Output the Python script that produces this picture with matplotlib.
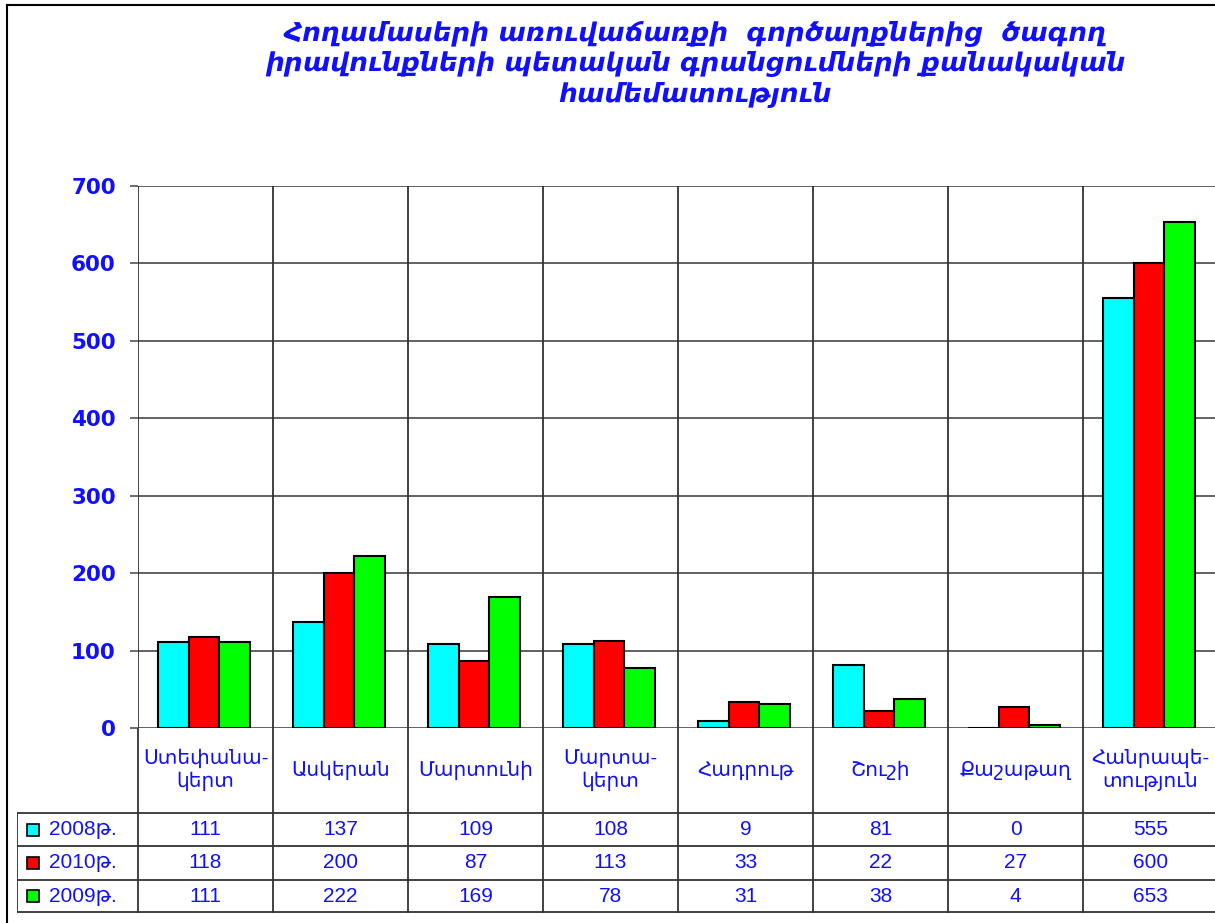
import matplotlib
matplotlib.use('Agg')
import matplotlib.pyplot as plt
from matplotlib.lines import Line2D
import numpy as np

# data
categories = ['Ստեփանա-\nկերտ', 'Ասկերան', 'Մարտունի', 'Մարտա-\nկերտ',
              'Հադրութ', 'Շուշի', 'Քաշաթաղ', 'Հանրապե-\nտություն']
series_names = ['2008թ.', '2010թ.', '2009թ.']
v2008 = [111, 137, 109, 108, 9, 81, 0, 555]
v2010 = [118, 200, 87, 113, 33, 22, 27, 600]
v2009 = [111, 222, 169, 78, 31, 38, 4, 653]
series = [v2008, v2010, v2009]
colors = ['#00ffff', '#ff0000', '#00ff00']
yticks = [0, 100, 200, 300, 400, 500, 600, 700]

title = ('Հողամասերի առուվաճառքի  գործարքներից  ծագող\n'
         'իրավունքների պետական գրանցումների քանակական\n'
         'համեմատություն')

W, H = 1215, 923
fams = ['Liberation Sans', 'DejaVu Sans']
blue = '#1010ff'
grid_c = '#555555'

def px(x0, y0, x1, y1):
    # pixel box -> figure fraction rect
    return [x0 / W, 1 - y1 / H, (x1 - x0) / W, (y1 - y0) / H]

fig = plt.figure(figsize=(W / 100, H / 100), dpi=100)
fig.patch.set_facecolor('white')

# outer frame
fig.add_artist(Line2D([7 / W, 7 / W], [0, 1 - 5 / H], color='black', lw=1.5,
                      transform=fig.transFigure))
fig.add_artist(Line2D([7 / W, 1], [1 - 5 / H, 1 - 5 / H], color='black', lw=1.5,
                      transform=fig.transFigure))

fig.text(695 / W, 1 - 64 / H, title, ha='center', va='center', color=blue,
         fontsize=19, fontweight='bold', fontstyle='italic',
         family=['DejaVu Sans'], linespacing=1.18)

# main chart
ax = fig.add_axes(px(138, 186, 1218, 728))
n = len(categories)
x = np.arange(n)
bw = 0.226
for k, (vals, c) in enumerate(zip(series, colors)):
    ax.bar(x + 0.49 + (k - 1) * bw, vals, width=bw, color=c,
           edgecolor='black', linewidth=1.5, zorder=3)

ax.set_xlim(0, n)
ax.set_ylim(0, 700)
ax.set_yticks(yticks)
ax.set_yticklabels([str(t) for t in yticks], color=blue, fontsize=15.5,
                   fontweight='bold', family=['DejaVu Sans'])
ax.set_xticks([])
ax.tick_params(axis='y', length=6, width=1.2, color=grid_c, pad=10)
for t in yticks:
    ax.axhline(t, color=grid_c, lw=1.3, zorder=1)
for i in range(n + 1):
    ax.axvline(i, color='#333333', lw=1.3, zorder=1)
for s in ax.spines.values():
    s.set_visible(False)

# data table below
tb = fig.add_axes(px(17, 728, 1218, 923))
left = -121 / 135
tb.set_xlim(left, n)
tb.set_ylim(923, 728)
tb.axis('off')

row_edges = [813, 846, 880, 912]
for i in range(n + 1):
    tb.plot([i, i], [728, 912], color='#333333', lw=1.3)
tb.plot([left, left], [813, 912], color='#333333', lw=1.3)
for ry in row_edges:
    tb.plot([left, n], [ry, ry], color='#333333', lw=1.3)

for i, cat in enumerate(categories):
    tb.text(i + 0.5, 770, cat, ha='center', va='center', color=blue,
            fontsize=14.5, family=fams, linespacing=1.25)

for r, (name, vals, c) in enumerate(zip(series_names, series, colors)):
    yc = (row_edges[r] + row_edges[r + 1]) / 2
    tb.plot(left + 0.12, yc, marker='s', markersize=9, color=c,
            markeredgecolor='black', markeredgewidth=1.2)
    tb.text(left + 0.235, yc, name, ha='left', va='center', color=blue,
            fontsize=15, family=fams)
    for i, v in enumerate(vals):
        tb.text(i + 0.5, yc, str(v), ha='center', va='center', color=blue,
                fontsize=15, family=fams)

fig.savefig('out.png', dpi=100, facecolor='white')
